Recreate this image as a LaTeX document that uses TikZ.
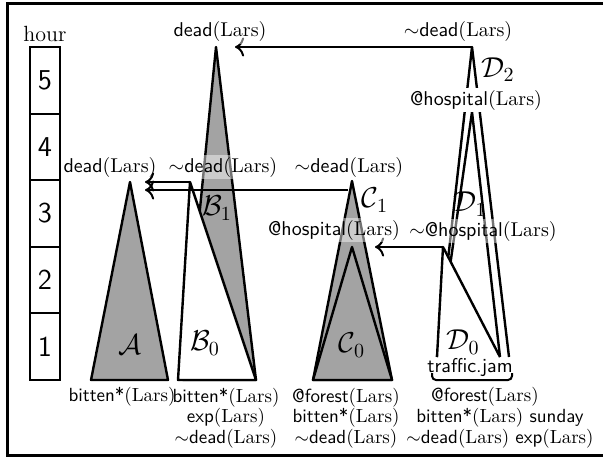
\documentclass[tikz,border=0pt]{standalone}
\usepackage{amsmath, amssymb}
\usepackage{tikz}
\usetikzlibrary{arrows.meta, positioning, calc}

% fluent: sans predicate, roman argument
\newcommand{\fl}[2]{\textsf{#1}(#2)}
\newcommand{\nt}{$\sim$}

\begin{document}
\begin{tikzpicture}[
    x=0.5pt, y=-0.5pt,
    hourbox/.style={draw, line width=1pt, minimum width=15pt, minimum height=33.3pt, inner sep=0pt, font=\sffamily\Large},
    tri/.style={draw, line width=1.2pt, line join=round},
    shaded/.style={tri, fill=black!36},
    blank/.style={tri, fill=white},
    lbl/.style={inner sep=1pt, fill=white, fill opacity=0.45, text opacity=1},
    tlabel/.style={font=\Large},
    cond/.style={align=center, inner sep=1pt, font=\fontsize{9.5}{10.25}\selectfont},
    arrow/.style={line width=1pt, -{Computer Modern Rightarrow[scale=1.2]}}
]
\useasboundingbox (0,0) rectangle (603,460);
\draw[line width=1.5pt] (7,4) rectangle (612,455);

% hour scale
\foreach \h in {1,...,5}
  \node[hourbox] (h\h) at (45,{380-66.6*(\h-0.5)}) {\h};
\node (hour) at (45,34) {\fontsize{11}{13}\selectfont hour};

% apexes
\coordinate (atop) at (130,182);
\coordinate (alow) at (130,190);
\coordinate (b1top) at (216,47);
\coordinate (b0top) at (190,182);
\coordinate (c1top) at (352,181);
\coordinate (c1foot) at (348,190);
\coordinate (c0top) at (352,247);
\coordinate (d2top) at (472,47);
\coordinate (d1top) at (472,112);
\coordinate (d0top) at (443,247);

% A
\draw[shaded] (atop) -- (91,380) -- (168,380) -- cycle;
% B
\draw[shaded] (b1top) -- (183,380) -- (256,380) -- cycle;
\draw[blank] (b0top) -- (178,380) -- (256,380) -- cycle;
% C
\draw[shaded] (c1top) -- (313,380) -- (392,380) -- cycle;
\draw[shaded] (c0top) -- (313,380) -- (392,380) -- cycle;
% D, open at the bottom
\fill[white] (d2top) -- (437,357) -- (509,357) -- cycle;
\draw[tri] (437,357) -- (d2top) -- (509,357);
\fill[white] (d1top) -- (437,357) -- (500,357) -- cycle;
\draw[tri] (437,357) -- (d1top) -- (500,357);
\fill[white] (d0top) -- (437,357) -- (500,357) -- cycle;
\draw[tri] (437,357) -- (d0top) -- (500,357);

% links
\draw[arrow, shorten >=9.5pt] (d2top) -- (b1top);
\draw[arrow, shorten >=7.5pt] (b0top) -- (atop);
\draw[arrow, shorten >=7.5pt] (c1foot) -- (alow);
\draw[arrow, shorten >=11.5pt] (d0top) -- (c0top);

% effects
\node[lbl] (deadb) at (220,32) {\fl{dead}{Lars}};
\node[lbl] (nodeadd) at (458,32) {\nt\fl{dead}{Lars}};
\node[fill=white, inner sep=1pt] (hospd) at (476,100) {\fl{@hospital}{Lars}};
\node (deada) at (110,167) {\fl{dead}{Lars}};
\node[lbl] (nodeadb) at (223,167) {\nt\fl{dead}{Lars}};
\node[lbl] (nodeadc) at (349,167) {\nt\fl{dead}{Lars}};
\node[lbl] (hospc) at (334,230) {\fl{@hospital}{Lars}};
\node[lbl] (nohospd) at (483,231) {\nt\fl{@hospital}{Lars}};

% names
\node[tlabel] (dtwo) at (498,70) {$\mathcal{D}_2$};
\node[tlabel] (cone) at (375,200) {$\mathcal{C}_1$};
\node[tlabel] (bone) at (217,208) {$\mathcal{B}_1$};
\node[tlabel] (done) at (470,204) {$\mathcal{D}_1$};
\node[tlabel] (aname) at (130,345) {$\mathcal{A}$};
\node[tlabel] (bzero) at (205,343) {$\mathcal{B}_0$};
\node[tlabel] (czero) at (352,345) {$\mathcal{C}_0$};
\node[tlabel] (dzero) at (463,342) {$\mathcal{D}_0$};

% conditions
\node (jam) at (470,367) {\textsf{traffic.jam}};
\draw[line width=1pt, rounded corners=2pt] (432,373) -- (432,380) -- (512,380) -- (512,373);
\node[cond] (conda) at (122,397) {\fl{bitten*}{Lars}};
\node[cond] (condb) at (226,418) {\fl{bitten*}{Lars}\\ \fl{exp}{Lars}\\ \nt\fl{dead}{Lars}};
\node[cond] (condc) at (346,418) {\fl{@forest}{Lars}\\ \fl{bitten*}{Lars}\\ \nt\fl{dead}{Lars}};
\node[cond] (forestd) at (485,397) {\fl{@forest}{Lars}};
\node[cond] (condd) at (500,428) {\fl{bitten*}{Lars} \textsf{sunday}\\ \nt\fl{dead}{Lars} \fl{exp}{Lars}};
\end{tikzpicture}
\end{document}
